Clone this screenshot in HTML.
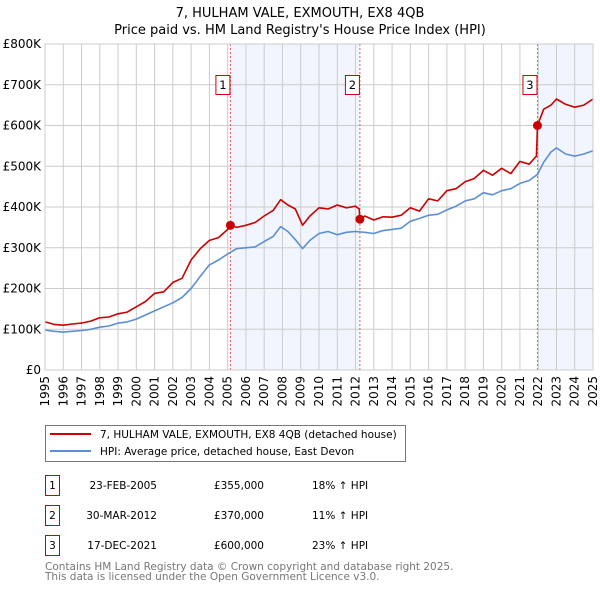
<!DOCTYPE html>
<html><head><meta charset="utf-8"><style>
body{margin:0;background:#fff;}
svg{display:block;font-family:"DejaVu Sans","Liberation Sans",sans-serif;}
</style></head><body>
<svg width="600" height="590" viewBox="0 0 600 590">
<text x="300" y="17" text-anchor="middle" font-size="13">7, HULHAM VALE, EXMOUTH, EX8 4QB</text>
<text x="300" y="34" text-anchor="middle" font-size="13">Price paid vs. HM Land Registry's House Price Index (HPI)</text>
<g id="plot"></g>
<g>
<rect x="45.5" y="425.5" width="360" height="36" fill="#fff" stroke="#777"/>
<line x1="50" y1="434" x2="91" y2="434" stroke="#cc0000" stroke-width="2"/>
<text x="100" y="438" font-size="10.5">7, HULHAM VALE, EXMOUTH, EX8 4QB (detached house)</text>
<line x1="50" y1="451" x2="91" y2="451" stroke="#5b8fd4" stroke-width="2"/>
<text x="100" y="455" font-size="10.5">HPI: Average price, detached house, East Devon</text>
</g>
<g font-size="10.5">
<rect x="45.5" y="475.5" width="14" height="20" fill="none" stroke="#cc0000"/><text x="52.5" y="489" text-anchor="middle">1</text>
<text x="157" y="489" text-anchor="end">23-FEB-2005</text><text x="264" y="489" text-anchor="end">£355,000</text><text x="312" y="489">18% ↑ HPI</text>
<rect x="45.5" y="505.5" width="14" height="20" fill="none" stroke="#cc0000"/><text x="52.5" y="519" text-anchor="middle">2</text>
<text x="157" y="519" text-anchor="end">30-MAR-2012</text><text x="264" y="519" text-anchor="end">£370,000</text><text x="312" y="519">11% ↑ HPI</text>
<rect x="45.5" y="535.5" width="14" height="20" fill="none" stroke="#cc0000"/><text x="52.5" y="549" text-anchor="middle">3</text>
<text x="157" y="549" text-anchor="end">17-DEC-2021</text><text x="264" y="549" text-anchor="end">£600,000</text><text x="312" y="549">23% ↑ HPI</text>
</g>
<text x="45" y="570" font-size="10.5" fill="#777">Contains HM Land Registry data © Crown copyright and database right 2025.</text>
<text x="45" y="580" font-size="10.5" fill="#777">This data is licensed under the Open Government Licence v3.0.</text>
</svg>
<script>
const hpiYears=[1995,1995.5,1996,1996.5,1997,1997.5,1998,1998.5,1999,1999.5,2000,2000.5,2001,2001.5,2002,2002.5,2003,2003.5,2004,2004.5,2005,2005.5,2006,2006.5,2007,2007.5,2007.9,2008.3,2008.7,2009.1,2009.5,2010,2010.5,2011,2011.5,2012,2012.5,2013,2013.5,2014,2014.5,2015,2015.5,2016,2016.5,2017,2017.5,2018,2018.5,2019,2019.5,2020,2020.5,2021,2021.5,2021.96,2022.3,2022.7,2023,2023.5,2024,2024.5,2025];
const hpiValues=[98,95,93,95,97,100,105,108,115,118,125,135,145,155,165,178,200,230,258,270,285,298,300,302,315,328,352,340,320,298,318,335,340,332,338,340,338,335,342,345,348,365,372,380,382,393,402,415,420,435,430,440,445,458,465,480,510,535,545,530,525,530,538];
const redYears=[1995,1995.5,1996,1996.5,1997,1997.5,1998,1998.5,1999,1999.5,2000,2000.5,2001,2001.5,2002,2002.5,2003,2003.5,2004,2004.5,2005,2005.15,2005.5,2006,2006.5,2007,2007.5,2007.9,2008.3,2008.7,2009.1,2009.5,2010,2010.5,2011,2011.5,2012,2012.2,2012.24,2012.5,2013,2013.5,2014,2014.5,2015,2015.5,2016,2016.5,2017,2017.5,2018,2018.5,2019,2019.5,2020,2020.5,2021,2021.5,2021.9,2021.96,2022.3,2022.7,2023,2023.5,2024,2024.5,2025];
const redValues=[118,112,110,113,115,120,128,130,138,142,155,168,188,192,215,225,270,298,318,325,345,355,350,355,362,378,392,418,405,395,355,378,398,395,405,398,402,395,370,378,368,376,375,380,398,390,420,415,440,445,462,470,490,478,495,482,512,505,525,600,640,650,665,652,645,650,665];
const saleYears=[2005.15,2012.24,2021.96];
const saleValues=[355,370,600];
const saleLabels=["1","2","3"];
const yTicks=[0,100,200,300,400,500,600,700,800];
const yTickLabels=["£0","£100K","£200K","£300K","£400K","£500K","£600K","£700K","£800K"];
const xTicks=[1995,1996,1997,1998,1999,2000,2001,2002,2003,2004,2005,2006,2007,2008,2009,2010,2011,2012,2013,2014,2015,2016,2017,2018,2019,2020,2021,2022,2023,2024,2025];

const NS="http://www.w3.org/2000/svg";
const X0=45,X1=593,Y0=370,Y1=44;
const xs=y=>X0+(y-1995)/30*(X1-X0);
const ys=v=>Y0-v/800*(Y0-Y1);
const g=document.getElementById('plot');
function mk(t,a){const e=document.createElementNS(NS,t);for(const k in a)e.setAttribute(k,a[k]);g.appendChild(e);return e;}
let r=mk('rect',{x:xs(saleYears[0]),y:Y1,width:xs(saleYears[1])-xs(saleYears[0]),height:Y0-Y1,fill:'#eef3fc',opacity:0.8});


r=mk('rect',{x:xs(saleYears[2]),y:Y1,width:xs(2025)-xs(saleYears[2]),height:Y0-Y1,fill:'#eef3fc',opacity:0.8});


yTicks.forEach((v,i)=>{
 const l=mk('line',{x1:X0,x2:X1,y1:ys(v),y2:ys(v),stroke:'#ccc','stroke-width':1});
 
 
 const t=mk('text',{x:X0-4,y:ys(v)+4,'text-anchor':'end','font-size':12});
 t.textContent=yTickLabels[i];
 
 
});
xTicks.forEach(y=>{
 const l=mk('line',{x1:xs(y),x2:xs(y),y1:Y1,y2:Y0,stroke:'#ccc','stroke-width':1});
 
 
 const t=mk('text',{x:xs(y)+4,y:376,'text-anchor':'end','font-size':12,transform:`rotate(-90 ${xs(y)+4} 376)`});
 t.textContent=y;
 
 
});
saleYears.forEach((y,i)=>{
 const l=mk('line',{x1:xs(y),x2:xs(y),y1:Y1,y2:Y0,stroke:'#e06060','stroke-width':1,'stroke-dasharray':'2,2'});
 
 
});
function path(xa,va,col,name){
 const d=xa.map((y,i)=>(i?'L':'M')+xs(y).toFixed(1)+' '+ys(va[i]).toFixed(1)).join(' ');
 const p=mk('path',{d:d,fill:'none',stroke:col,'stroke-width':1.6,'stroke-linejoin':'round'});
 
 
}
path(hpiYears,hpiValues,'#5b8fd4','hpi-line');
path(redYears,redValues,'#cc0000','property-price-line');
saleYears.forEach((y,i)=>{
 const c=mk('circle',{cx:xs(y),cy:ys(saleValues[i]),r:4.5,fill:'#cc0000'});
 
 
 const b=mk('rect',{x:xs(y)-14.5,y:75.5,width:14,height:19,fill:'#fff',stroke:'#cc0000'});
 
 
 const t=mk('text',{x:xs(y)-7.5,y:89,'text-anchor':'middle','font-size':11.5});
 t.textContent=saleLabels[i];
 
 
});
const ax=mk('rect',{x:X0,y:Y1,width:X1-X0,height:Y0-Y1,fill:'none',stroke:'#ccc'});


</script>
</body></html>
